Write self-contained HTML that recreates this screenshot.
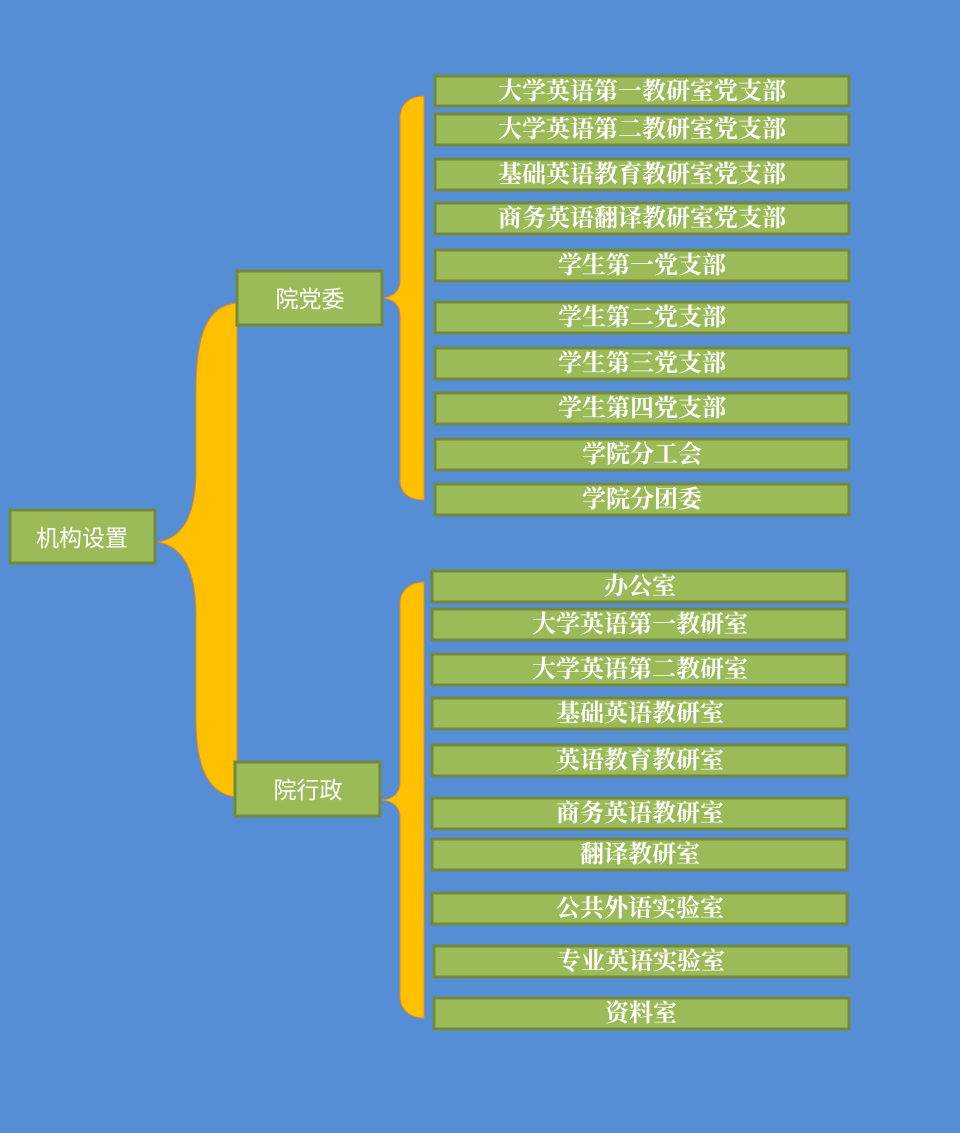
<!DOCTYPE html>
<html><head><meta charset="utf-8"><style>
html,body{margin:0;padding:0;background:#558ed5;}
svg{display:block}
.b{fill:#9bbb59;stroke:#71893f;stroke-width:3}
.t{fill:#fff;font-family:"Liberation Serif","Noto Serif CJK SC",serif;font-weight:bold;font-size:24px;text-anchor:middle;dominant-baseline:central}
.m{fill:#fff;font-family:"Liberation Sans","Noto Sans CJK SC",sans-serif;font-size:23px;text-anchor:middle;dominant-baseline:central}
.br{fill:#ffc000;stroke:#e0862a;stroke-width:1}
</style></head><body>
<svg width="960" height="1133" viewBox="0 0 960 1133" xmlns="http://www.w3.org/2000/svg">
<rect width="960" height="1133" fill="#558ed5"/>
<path class="br" d="M237,303 C205,305 196,340 196,390 L196,470 C196,520 180,538 158,542 C180,546 196,565 196,615 L196,720 C196,770 210,795 237,797 Z"/>
<path class="br" d="M424,96 C410,96 400,104 400,118 L400,280 C400,292 392,297 382,298 C392,299 400,304 400,316 L400,480 C400,494 410,500 424,500 Z"/>
<path class="br" d="M424,582 C410,582 400,590 400,604 L400,782 C400,794 392,799 382,800 C392,801 400,806 400,818 L400,996 C400,1010 410,1018 424,1018 Z"/>

<rect class="b" x="10" y="510" width="145" height="53"/><text class="m" x="82" y="538">机构设置</text>
<rect class="b" x="237" y="271" width="145" height="54"/><text class="m" x="310" y="299">院党委</text>
<rect class="b" x="235" y="762" width="145" height="54"/><text class="m" x="308" y="790">院行政</text>

<g>
<rect class="b" x="435" y="76" width="414" height="30"/><text class="t" x="642" y="92">大学英语第一教研室党支部</text>
<rect class="b" x="435" y="114" width="414" height="31"/><text class="t" x="642" y="130">大学英语第二教研室党支部</text>
<rect class="b" x="435" y="159" width="414" height="31"/><text class="t" x="642" y="175">基础英语教育教研室党支部</text>
<rect class="b" x="435" y="203" width="414" height="31"/><text class="t" x="642" y="219">商务英语翻译教研室党支部</text>
<rect class="b" x="435" y="250" width="414" height="31"/><text class="t" x="642" y="266">学生第一党支部</text>
<rect class="b" x="435" y="302" width="414" height="31"/><text class="t" x="642" y="318">学生第二党支部</text>
<rect class="b" x="435" y="348" width="414" height="31"/><text class="t" x="642" y="364">学生第三党支部</text>
<rect class="b" x="435" y="393" width="414" height="31"/><text class="t" x="642" y="409">学生第四党支部</text>
<rect class="b" x="435" y="439" width="414" height="31"/><text class="t" x="642" y="455">学院分工会</text>
<rect class="b" x="435" y="484" width="414" height="31"/><text class="t" x="642" y="500">学院分团委</text>
</g>
<g>
<rect class="b" x="432" y="571" width="415" height="31"/><text class="t" x="640" y="587">办公室</text>
<rect class="b" x="432" y="609" width="415" height="31"/><text class="t" x="640" y="625">大学英语第一教研室</text>
<rect class="b" x="432" y="654" width="415" height="31"/><text class="t" x="640" y="670">大学英语第二教研室</text>
<rect class="b" x="432" y="698" width="415" height="31"/><text class="t" x="640" y="714">基础英语教研室</text>
<rect class="b" x="432" y="745" width="415" height="31"/><text class="t" x="640" y="761">英语教育教研室</text>
<rect class="b" x="432" y="798" width="415" height="31"/><text class="t" x="640" y="814">商务英语教研室</text>
<rect class="b" x="432" y="839" width="415" height="31"/><text class="t" x="640" y="855">翻译教研室</text>
<rect class="b" x="432" y="893" width="415" height="31"/><text class="t" x="640" y="909">公共外语实验室</text>
<rect class="b" x="434" y="946" width="415" height="31"/><text class="t" x="641" y="962">专业英语实验室</text>
<rect class="b" x="434" y="998" width="415" height="31"/><text class="t" x="641" y="1014">资料室</text>
</g>
</svg>
</body></html>
